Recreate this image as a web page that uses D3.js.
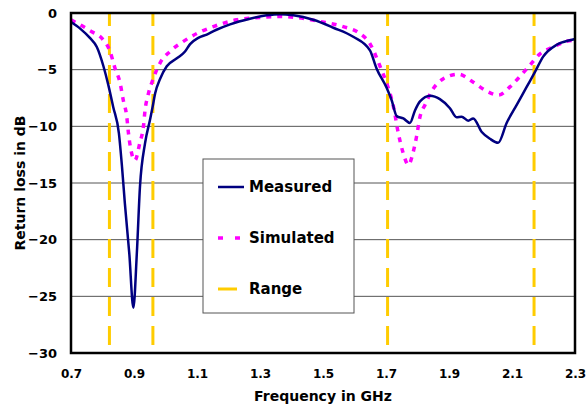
<!DOCTYPE html>
<html>
<head>
<meta charset="utf-8">
<script src="https://cdn.jsdelivr.net/npm/d3@7"></script>
<style>
  body { margin: 0; background: #fff; }
  text { font-family: "DejaVu Sans", Verdana, sans-serif; font-weight: bold; }
</style>
</head>
<body>
<div id="chart"></div>
<script>
// measured return loss (GHz, dB)
let measuredFreq = [0.700, 0.730, 0.760, 0.782, 0.803, 0.818, 0.834, 0.852, 0.862, 0.871, 0.885, 0.898, 0.909, 0.919, 0.935, 0.951, 0.959, 0.967, 0.983, 1.004, 1.036, 1.062, 1.078, 1.104, 1.131, 1.160, 1.205, 1.268, 1.321, 1.363, 1.406, 1.469, 1.533, 1.596, 1.649, 1.670, 1.702, 1.718, 1.734, 1.755, 1.776, 1.792, 1.808, 1.840, 1.871, 1.903, 1.924, 1.940, 1.961, 1.977, 2.004, 2.030, 2.056, 2.083, 2.115, 2.147, 2.173, 2.199, 2.242, 2.284, 2.300];
let measuredDb = [-0.8, -1.4, -2.2, -3.0, -4.7, -6.3, -8.3, -10.6, -13.6, -16.8, -21.2, -26.0, -21.2, -15.3, -11.5, -9.4, -8.3, -7.1, -5.8, -4.7, -4.0, -3.4, -2.75, -2.2, -1.9, -1.5, -1.0, -0.5, -0.2, -0.1, -0.2, -0.6, -1.3, -2.1, -3.3, -4.9, -6.6, -7.7, -9.1, -9.3, -9.7, -8.6, -7.8, -7.3, -7.6, -8.4, -9.2, -9.15, -9.5, -9.3, -10.5, -11.1, -11.45, -9.7, -8.1, -6.5, -5.2, -3.85, -2.8, -2.4, -2.3];

// simulated return loss (GHz, dB)
let simFreq = [0.700, 0.739, 0.766, 0.797, 0.824, 0.840, 0.856, 0.866, 0.877, 0.882, 0.889, 0.903, 0.919, 0.930, 0.935, 0.945, 0.961, 0.983, 1.014, 1.057, 1.104, 1.152, 1.226, 1.300, 1.363, 1.416, 1.490, 1.564, 1.617, 1.649, 1.681, 1.707, 1.724, 1.739, 1.755, 1.771, 1.787, 1.797, 1.808, 1.824, 1.845, 1.882, 1.930, 1.977, 2.020, 2.057, 2.094, 2.125, 2.157, 2.189, 2.231, 2.273, 2.300];
let simDb = [-0.6, -1.2, -1.65, -2.2, -3.4, -4.9, -6.2, -7.7, -9.15, -10.5, -11.9, -13.0, -11.4, -10.0, -8.6, -7.2, -5.8, -4.4, -3.4, -2.5, -1.75, -1.2, -0.6, -0.4, -0.3, -0.4, -0.75, -1.2, -1.8, -2.7, -4.7, -6.6, -8.3, -10.6, -12.4, -13.4, -12.2, -10.9, -9.15, -8.1, -6.9, -5.8, -5.4, -6.1, -6.9, -7.25, -6.5, -5.6, -4.6, -3.6, -3.0, -2.5, -2.4];

// band edges
let rangeFreq = [0.822, 0.96, 1.705, 2.17];

let xTicks = [0.7, 0.9, 1.1, 1.3, 1.5, 1.7, 1.9, 2.1, 2.3];
let yTicks = [0, -5, -10, -15, -20, -25, -30];

let legendNames = ['Measured', 'Simulated', 'Range'];

let margin = { top: 13, right: 11, bottom: 54, left: 71 };
let width = 586 - margin.left - margin.right;
let height = 407 - margin.top - margin.bottom;

let svg = d3.select('#chart')
    .append('svg')
    .attr('width', 586)
    .attr('height', 407)
    .append('g')
    .attr('transform', `translate(${margin.left}, ${margin.top})`);

let x = d3.scaleLinear().domain([0.7, 2.3]).range([0, width]);
let y = d3.scaleLinear().domain([-30, 0]).range([height, 0]);

// grid lines
svg.append('g')
    .selectAll('line')
    .data(yTicks.filter(d => d !== 0 && d !== -30))
    .enter()
    .append('line')
    .attr('x1', 0)
    .attr('x2', width)
    .attr('y1', d => y(d))
    .attr('y2', d => y(d))
    .style('stroke', '#555')
    .style('stroke-width', 1);

// axes (labels only)
let yAxis = svg.append('g')
    .call(d3.axisLeft(y).tickValues(yTicks).tickSize(0).tickPadding(14).tickFormat(d3.format('d')));
yAxis.select('.domain').remove();
yAxis.selectAll('text').style('font-size', '13px').style('fill', '#000');

let xAxis = svg.append('g')
    .attr('transform', `translate(0,${height})`)
    .call(d3.axisBottom(x).tickValues(xTicks).tickSize(0).tickPadding(16).tickFormat(d3.format('.1f')));
xAxis.select('.domain').remove();
xAxis.selectAll('text').style('font-size', '12px').style('fill', '#000');

// range lines
svg.append('g')
    .selectAll('line')
    .data(rangeFreq)
    .enter()
    .append('line')
    .attr('x1', d => x(d))
    .attr('x2', d => x(d))
    .attr('y1', height - 8)
    .attr('y2', 0)
    .style('stroke', '#ffcc00')
    .style('stroke-width', 3)
    .style('stroke-dasharray', '19,10');

let line = d3.line()
    .x(d => x(d[0]))
    .y(d => y(d[1]))
    .curve(d3.curveMonotoneX);

svg.append('path')
    .datum(simFreq.map((f, i) => [f, simDb[i]]))
    .attr('d', line)
    .style('fill', 'none')
    .style('stroke', '#ff00ff')
    .style('stroke-width', 3.5)
    .style('stroke-dasharray', '5,6');

svg.append('path')
    .datum(measuredFreq.map((f, i) => [f, measuredDb[i]]))
    .attr('d', line)
    .style('fill', 'none')
    .style('stroke', '#000080')
    .style('stroke-width', 2.5);

// plot border
svg.append('rect')
    .attr('x', 0)
    .attr('y', 0)
    .attr('width', width)
    .attr('height', height)
    .style('fill', 'none')
    .style('stroke', '#000')
    .style('stroke-width', 2.5);

// legend
let legend = svg.append('g').attr('transform', 'translate(132, 146)');
legend.append('rect')
    .attr('width', 151)
    .attr('height', 154)
    .style('fill', '#fff')
    .style('stroke', '#555')
    .style('stroke-width', 1);

let legendStyles = [
    { stroke: '#000080', width: 2.5, dash: null, len: 26 },
    { stroke: '#ff00ff', width: 3.5, dash: '5,12', len: 22 },
    { stroke: '#ffcc00', width: 3, dash: null, len: 19 }
];

let item = legend.selectAll('.legend-item')
    .data(legendNames)
    .enter()
    .append('g')
    .attr('class', 'legend-item')
    .attr('transform', (d, i) => `translate(0, ${28 + i * 51})`);

item.append('line')
    .attr('x1', 15)
    .attr('x2', (d, i) => 15 + legendStyles[i].len)
    .style('stroke', (d, i) => legendStyles[i].stroke)
    .style('stroke-width', (d, i) => legendStyles[i].width)
    .style('stroke-dasharray', (d, i) => legendStyles[i].dash);

item.append('text')
    .text(d => d)
    .attr('x', 46)
    .attr('dy', '0.35em')
    .style('font-size', '15px');

// axis titles
svg.append('text')
    .text('Frequency in GHz')
    .attr('x', width / 2)
    .attr('y', height + 48)
    .attr('text-anchor', 'middle')
    .style('font-size', '14px');

svg.append('text')
    .text('Return loss in dB')
    .attr('transform', 'rotate(-90)')
    .attr('x', -height / 2)
    .attr('y', -46)
    .attr('text-anchor', 'middle')
    .style('font-size', '14px');
</script>
</body>
</html>
